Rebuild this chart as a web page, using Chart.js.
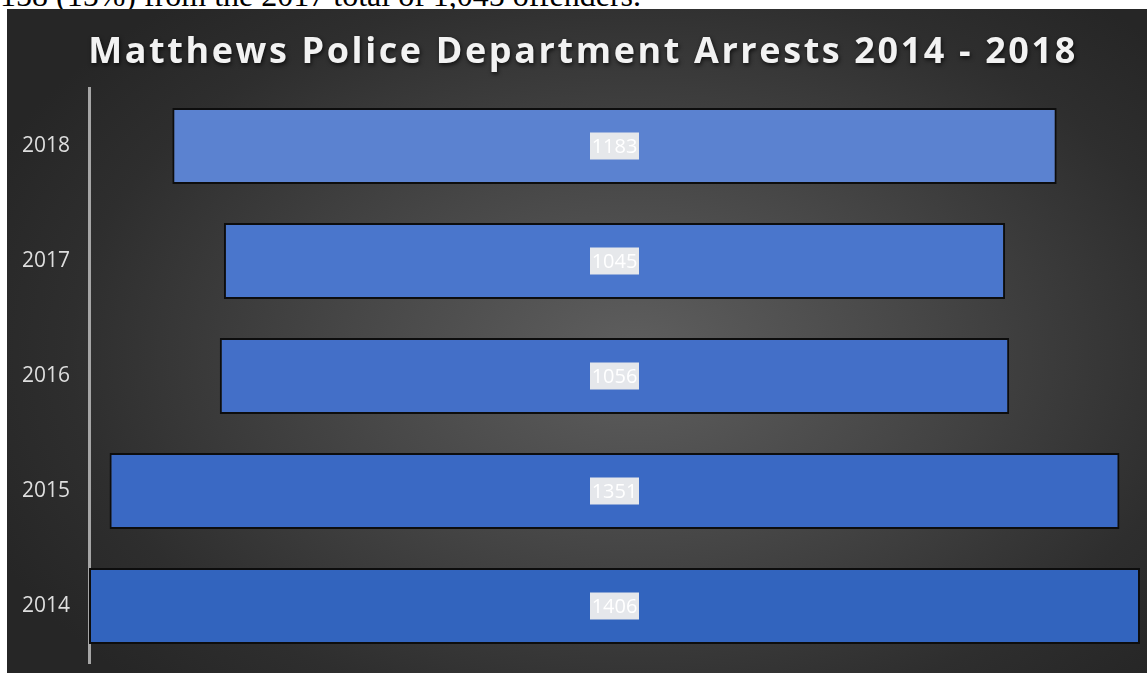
<!DOCTYPE html>
<html>
<head>
<meta charset="utf-8">
<script src="https://cdn.jsdelivr.net/npm/chart.js@4"></script>
<style>
html,body{margin:0;padding:0;background:#fff;overflow:hidden;}
body{width:1147px;height:673px;position:relative;}
#txt{position:absolute;left:0;top:-21px;font:32px/32px "Liberation Serif","Times New Roman",serif;color:#000;white-space:nowrap;}
#panel{position:absolute;left:7px;top:9px;width:1140px;height:664px;
background:radial-gradient(ellipse 62% 70% at 55% 52%,#5f5f5f 0%,#474747 40%,#2e2e2e 80%,#262626 100%);}
canvas{display:block;}
</style>
</head>
<body>
<div id="txt">158 (15%) from the 2017 total of 1,045 offenders.</div>
<div id="panel"><canvas id="c" width="1140" height="664"></canvas></div>
<script>
/* data */
let years=["2018","2017","2016","2015","2014"];
let arrests=[1183,1045,1056,1351,1406];
let barColors=["#5b82d0","#4a76cc","#436fc8","#3a69c4","#3264be"];
let maxVal=1406;
let titleText="Matthews Police Department Arrests 2014 - 2018";

/* title with shadow + letter spacing */
const bigTitle={
id:"bigTitle",
afterDraw(chart){
let ctx=chart.ctx;
ctx.save();
ctx.font="bold 36px 'Open Sans', sans-serif";
ctx.letterSpacing="2.6px";
ctx.textAlign="center";
ctx.textBaseline="alphabetic";
ctx.shadowColor="rgba(0,0,0,0.7)";
ctx.shadowBlur=4;
ctx.shadowOffsetX=1;
ctx.shadowOffsetY=2;
ctx.fillStyle="#f2f2f2";
ctx.fillText(titleText,576,54);
ctx.restore();
}
};

/* label boxes in bar centre */
const valueBoxes={
id:"valueBoxes",
afterDatasetsDraw(chart){
let ctx=chart.ctx;
let meta=chart.getDatasetMeta(0);
ctx.save();
ctx.font="20px 'Open Sans', sans-serif";
ctx.textAlign="center";
ctx.textBaseline="middle";
meta.data.forEach((b,i)=>{
let w=49,h=27;
let cx=b.base+(b.x-b.base)/2;
ctx.fillStyle="rgba(236,236,236,0.96)";
ctx.fillRect(cx-w/2,b.y-h/2,w,h);
ctx.fillStyle="#ffffff";
ctx.fillText(arrests[i],cx,b.y+1);
});
ctx.restore();
}
};

new Chart(document.getElementById("c"),{
type:"bar",
data:{
labels:years,
datasets:[{
data:arrests.map(v=>[-v/2,v/2]),
backgroundColor:barColors,
borderColor:"#0d0d0d",
borderWidth:2,
borderSkipped:false,
categoryPercentage:1,
barPercentage:0.66
}]
},
options:{
indexAxis:"y",
responsive:false,
animation:false,
layout:{padding:{left:0,right:7,bottom:9.5,top:79.5}},
plugins:{
legend:{display:false},
tooltip:{enabled:false},
title:{display:false}
},
scales:{
x:{display:false,min:-maxVal/2,max:maxVal/2},
y:{
afterFit(s){s.width=82;s.paddingTop=0;s.paddingBottom=0;},
grid:{display:false,drawTicks:false},
border:{display:true,color:"#a6a6a6",width:3},
ticks:{color:"#dedede",padding:19,font:{family:"'Open Sans', sans-serif",size:21}}
}
}
},
plugins:[valueBoxes,bigTitle]
});
</script>
</body>
</html>
